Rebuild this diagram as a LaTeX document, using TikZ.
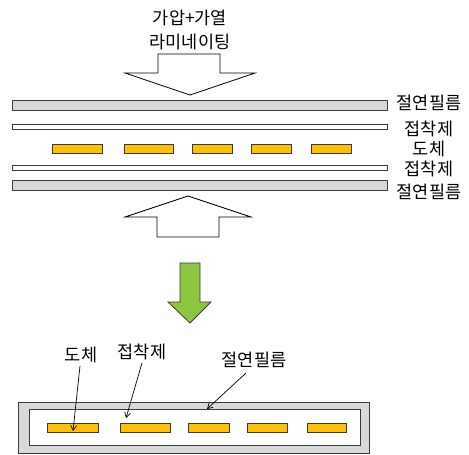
\documentclass[tikz,border=0pt]{standalone}
\usepackage{fontspec}
\setmainfont{Noto Sans CJK KR}
\usetikzlibrary{arrows.meta}
\definecolor{filmgray}{HTML}{D9D9D9}
\definecolor{condor}{HTML}{FFC000}
\definecolor{greenar}{HTML}{8DC63F}
\definecolor{edge}{HTML}{3A3A3A}
\tikzset{
  film/.style={draw=edge,fill=filmgray,line width=0.9pt},
  adh/.style={draw=edge,fill=white,line width=0.9pt},
  cond/.style={draw=edge,fill=condor,line width=0.8pt},
  bigarrow/.style={draw=black,fill=white,line width=0.8pt},
  lbl/.style={font=\fontsize{17.5}{20}\selectfont,inner sep=0pt},
  ptr/.style={-{Straight Barb[length=5pt,width=6pt]},line width=0.7pt}
}
\begin{document}
\begin{tikzpicture}[x=1pt,y=-1pt]
\useasboundingbox (0,0) rectangle (469,455);
% top text
\node[lbl] (t1) at (190,18) {가압+가열};
\node[lbl] (t2) at (190,42) {라미네이팅};
% top press arrow
\draw[bigarrow] (158,54) -- (220,54) -- (220,73) -- (255,73) -- (190,95) -- (125,73) -- (158,73) -- cycle;
% layers
\draw[film] (12,100) rectangle (387,110);
\draw[adh] (12,124) rectangle (387,129);
\foreach \a/\b in {52/102,124/173,192/232,251/291,311/351}
  \draw[cond] (\a,144) rectangle (\b,153);
\draw[adh] (12,165) rectangle (387,170);
\draw[film] (12,180) rectangle (387,190);
% right labels
\node[lbl] (l1) at (429,103) {절연필름};
\node[lbl] (l2) at (429,129) {접착제};
\node[lbl] (l3) at (429,149) {도체};
\node[lbl] (l4) at (429,169) {접착제};
\node[lbl] (l5) at (429,192) {절연필름};
% bottom press arrow
\draw[bigarrow] (188,196) -- (251,217) -- (219,217) -- (219,237) -- (157,237) -- (157,217) -- (125,217) -- cycle;
% green arrow
\draw[draw=edge,fill=greenar,line width=0.8pt] (180,263) -- (200,263) -- (200,302) -- (211,302) -- (190,323) -- (168,302) -- (180,302) -- cycle;
% laminated result
\draw[film] (18,402) rectangle (369,453);
\draw[adh] (29,409) rectangle (360,445);
\foreach \a/\b in {47/98,120/170,188/229,247/287,307/346}
  \draw[cond] (\a,423) rectangle (\b,432);
\coordinate (c1) at (73,431);
\coordinate (c2) at (126,418);
\coordinate (c3) at (207,409);
\node[lbl] (b1) at (81,355) {도체};
\node[lbl] (b2) at (142,352) {접착제};
\node[lbl] (b3) at (254,360) {절연필름};
\draw[ptr] (80,366) -- (c1);
\draw[ptr] (142,363) -- (c2);
\draw[ptr] (246,373) -- (c3);
\end{tikzpicture}
\end{document}
